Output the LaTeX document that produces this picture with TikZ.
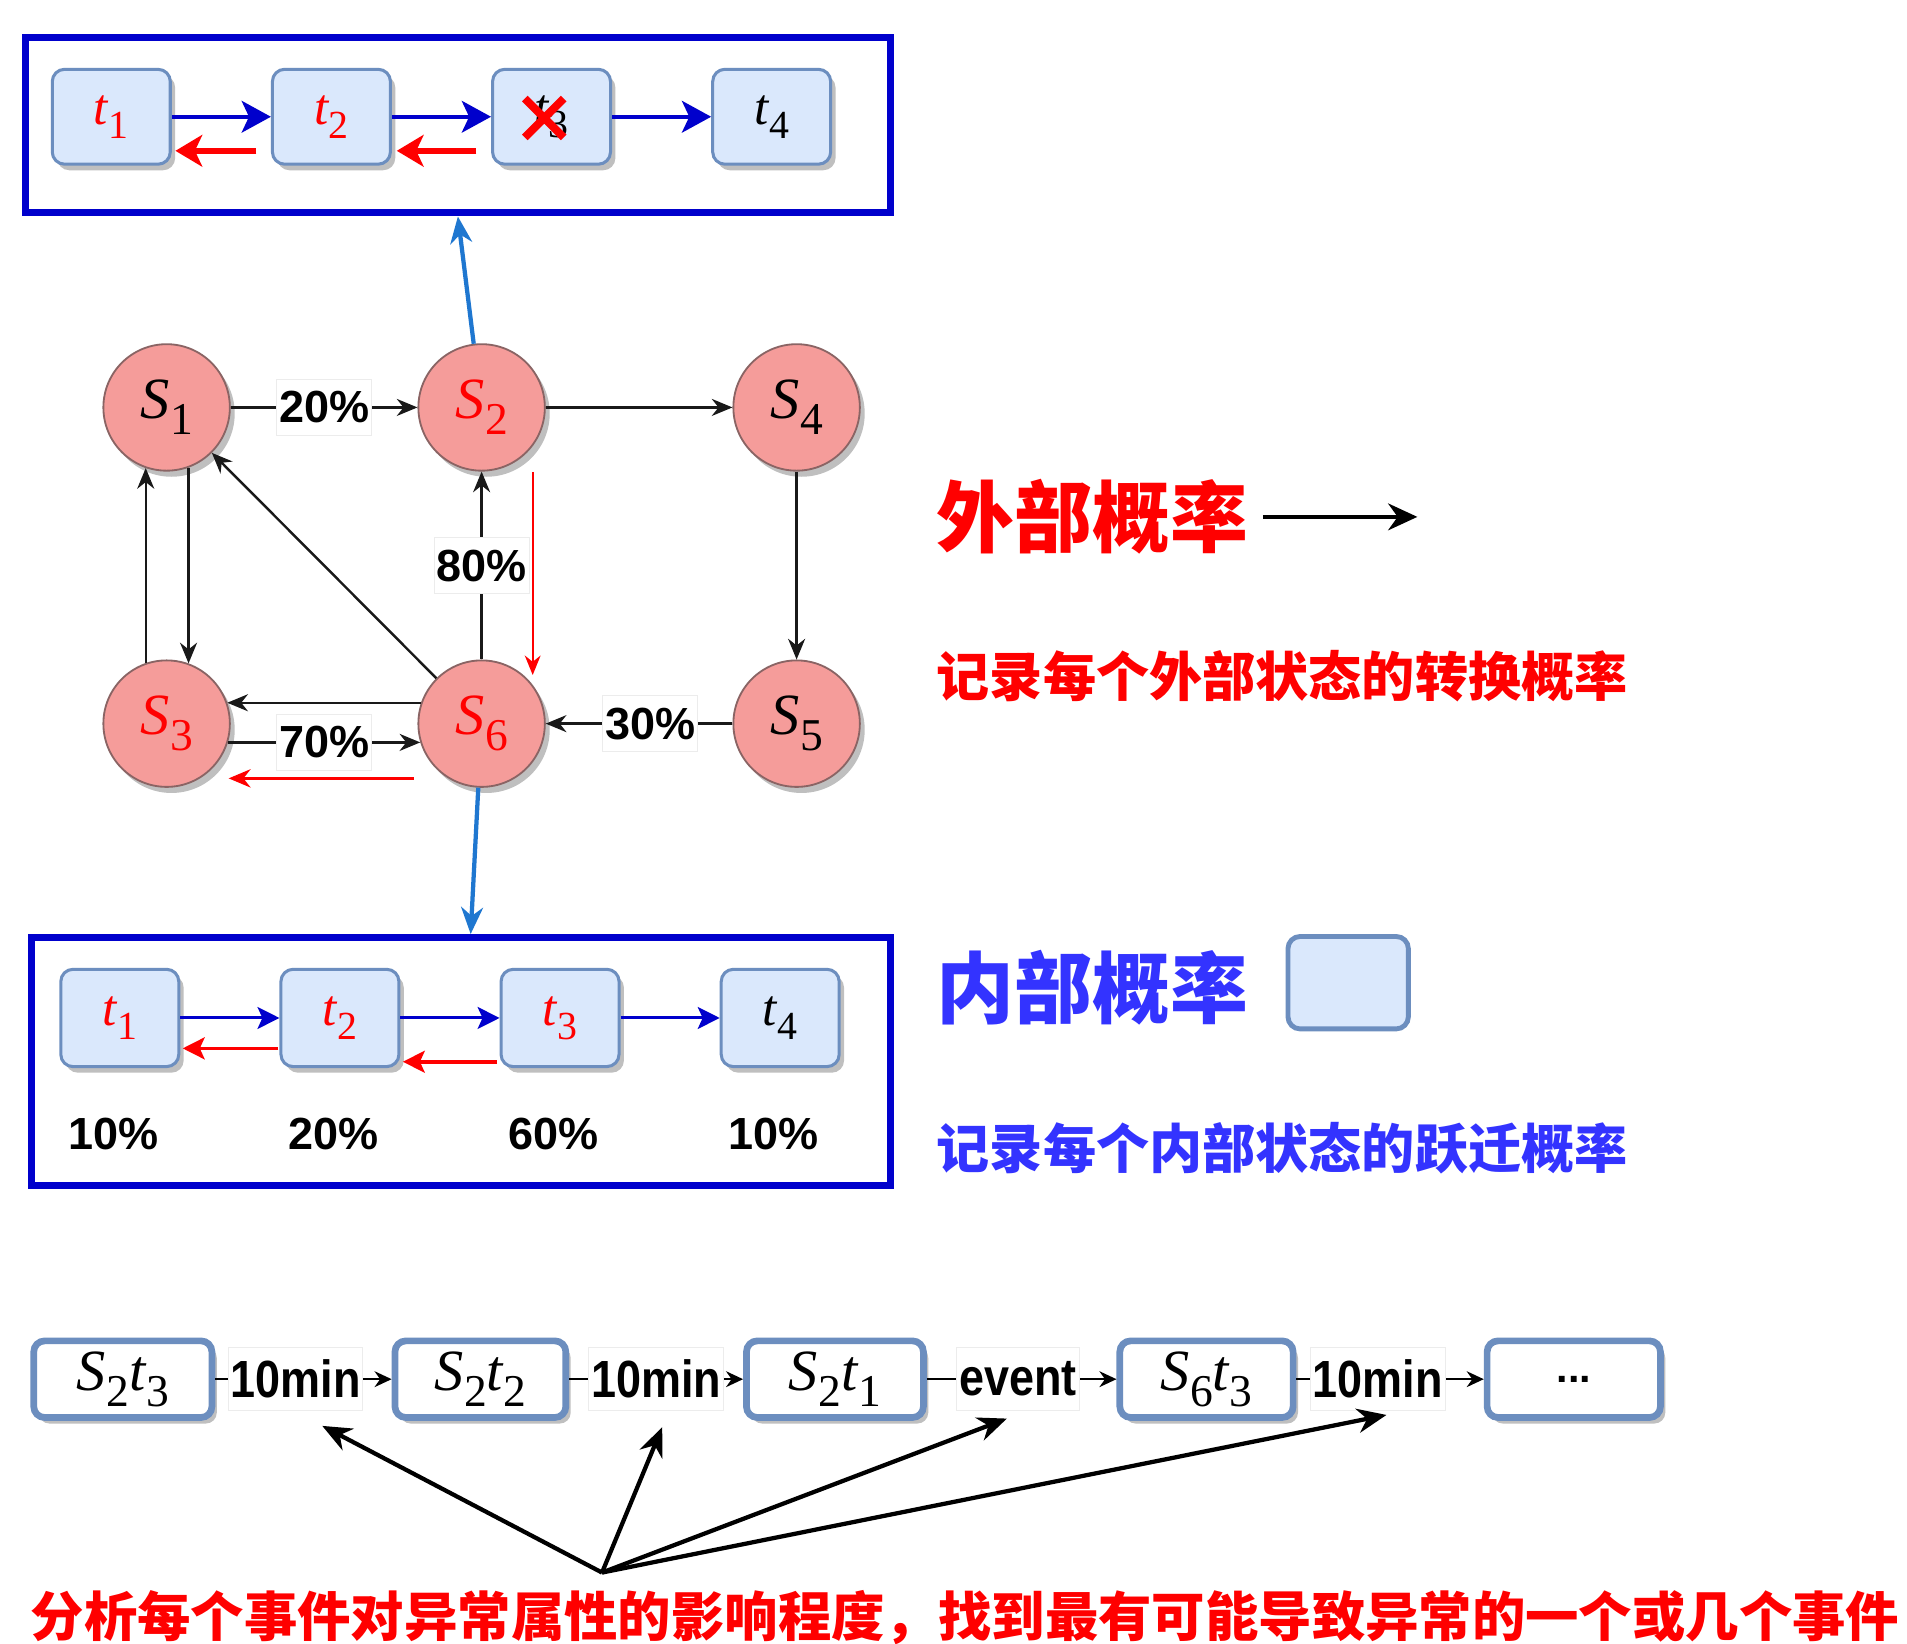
\documentclass[tikz,border=0pt]{standalone}
\usepackage{fontspec}
\newfontfamily\cjk{Noto Sans CJK SC}
\newfontfamily\lab{Liberation Sans}
\newfontfamily\labc{Liberation Sans}[FakeStretch=0.86]
\newfontfamily\tms{Liberation Serif}
\newcommand\myvar[2]{{\tms\itshape #1}\kern0.01em\raisebox{-0.27em}{\tms\scalebox{0.78}{#2}}}
\usetikzlibrary{arrows.meta,shadows,calc}
\definecolor{boxblue}{HTML}{0000CC}
\definecolor{linkblue}{HTML}{1F77D0}
\definecolor{tfill}{HTML}{DAE8FC}
\definecolor{tdraw}{HTML}{6C8EBF}
\definecolor{cfill}{HTML}{F59C9A}
\definecolor{cdraw}{HTML}{8A6464}
\definecolor{myred}{HTML}{FF0000}
\definecolor{txtblue}{HTML}{3333FF}
\begin{document}
\begin{tikzpicture}[x=1pt,y=-1pt,
  shad/.style={drop shadow={shadow xshift=4pt,shadow yshift=-5pt,fill=black,opacity=0.25}},
  outerbox/.style={draw=boxblue,line width=6pt,inner sep=0pt},
  tbox/.style={shad,draw=tdraw,fill=tfill,line width=2.5pt,rounded corners=10pt,
    minimum width=97pt,minimum height=78pt,inner sep=0pt,font=\fontsize{42}{46}\selectfont},
  state/.style={circle,shad,draw=cdraw,fill=cfill,line width=1.5pt,minimum size=104pt,
    inner sep=0pt,font=\fontsize{48}{54}\selectfont},
  elab/.style={fill=white,draw=gray!15,line width=0.8pt,inner xsep=2pt,inner ysep=0pt,
    minimum height=46pt,font=\lab\bfseries\fontsize{37}{40}\selectfont},
  clab/.style={fill=white,draw=gray!15,line width=0.8pt,inner xsep=2pt,inner ysep=0pt,
    minimum height=52pt,font=\labc\bfseries\fontsize{43}{46}\selectfont},
  pct/.style={font=\lab\bfseries\fontsize{37}{40}\selectfont,inner sep=0pt},
  garr/.style={-{Stealth[length=17pt,width=14pt]},line width=2pt,draw=black!90},
  bluearrA/.style={-{Stealth[length=24pt,width=26pt,inset=6pt]},line width=3.5pt,draw=boxblue},
  redarrA/.style={-{Stealth[length=22pt,width=26pt,inset=6pt]},line width=4.5pt,draw=myred},
  bluearrB/.style={-{Stealth[length=18pt,width=18pt,inset=4pt]},line width=2.5pt,draw=boxblue},
  redarrB/.style={-{Stealth[length=18pt,width=18pt,inset=4pt]},line width=3pt,draw=myred},
  redthin/.style={-{Stealth[length=16pt,width=13pt]},line width=1.6pt,draw=myred},
  redmid/.style={-{Stealth[length=18pt,width=15pt]},line width=2.5pt,draw=myred},
  linkarr/.style={-{Stealth[length=22pt,width=18pt]},line width=3.5pt,draw=linkblue},
  cbox/.style={shad,draw=tdraw,fill=white,line width=5.5pt,rounded corners=9pt,
    minimum height=63pt,inner sep=0pt,font=\fontsize{48}{54}\selectfont},
  charr/.style={-{Stealth[length=14pt,width=13pt]},line width=2pt,draw=black},
  fanarr/.style={-{Stealth[length=24pt,width=20pt]},line width=3.5pt,draw=black},
  legarr/.style={-{Stealth[length=24pt,width=22pt]},line width=3.5pt,draw=black},
  bigcjk/.style={font=\cjk\bfseries\fontsize{64}{70}\selectfont,inner sep=0pt,anchor=west},
  smcjk/.style={font=\cjk\bfseries\fontsize{43.7}{48}\selectfont,inner sep=0pt,anchor=west}
]
\path[use as bounding box,fill=white] (0,0) rectangle (1568,1351);

% ---------- top box ----------
\node[outerbox,minimum width=711pt,minimum height=144pt] (topbox) at (376.5,103) {};
\node[tbox] (a1) at (91.5,96) {\color{myred}\myvar{t}{1}};
\node[tbox] (a2) at (272.5,96) {\color{myred}\myvar{t}{2}};
\node[tbox] (a3) at (453.5,96) {\myvar{t}{3}};
\node[tbox] (a4) at (634.5,96) {\myvar{t}{4}};
\draw[bluearrA] (a1.east) -- (a2.west);
\draw[bluearrA] (a2.east) -- (a3.west);
\draw[bluearrA] (a3.east) -- (a4.west);
\draw[redarrA] ($(a2.west)+(-12,28)$) -- ($(a1.east)+(3,28)$);
\draw[redarrA] ($(a3.west)+(-12,28)$) -- ($(a2.east)+(4,28)$);
\draw[myred,line width=6.5pt] ($(a3.center)+(-22,-15)$) -- ($(a3.center)+(10,17)$);
\draw[myred,line width=6.5pt] ($(a3.center)+(10,-15)$) -- ($(a3.center)+(-22,17)$);

% ---------- state graph ----------
\node[state] (S1) at (137,335) {\myvar{S}{1}};
\node[state] (S2) at (396,335) {\color{myred}\myvar{S}{2}};
\node[state] (S4) at (655,335) {\myvar{S}{4}};
\node[state] (S3) at (137,595) {\color{myred}\myvar{S}{3}};
\node[state] (S6) at (396,595) {\color{myred}\myvar{S}{6}};
\node[state] (S5) at (655,595) {\myvar{S}{5}};

\draw[garr] (S1) -- node[elab]{20\%} (S2);
\draw[garr] (S2) -- (S4);
\draw[garr] (S4) -- (S5);
\draw[garr] (S5) -- node[elab,pos=.44]{30\%} (S6);
\draw[garr] (S6) -- node[elab]{80\%} (S2);
\draw[garr] (S6) -- (S1);
\draw[garr] (S3.109) -- (S1.251);
\draw[garr] (S1.290) -- (S3.70);
\draw[garr] (S6.161) -- (S3.19);
\draw[garr] (S3.-17) -- node[elab]{70\%} (S6.197);
\draw[redthin] ($(S2.center)+(42,53)$) -- ($(S6.center)+(42,-40)$);
\draw[redmid] ($(S6.center)+(-56,45)$) -- ($(S3.center)+(51,45)$);

% ---------- bottom box ----------
\node[outerbox,minimum width=706pt,minimum height=204pt] (botbox) at (379,873) {};
\node[tbox,minimum height=80pt] (b1) at (98.5,837) {\color{myred}\myvar{t}{1}};
\node[tbox,minimum height=80pt] (b2) at (279.5,837) {\color{myred}\myvar{t}{2}};
\node[tbox,minimum height=80pt] (b3) at (460.5,837) {\color{myred}\myvar{t}{3}};
\node[tbox,minimum height=80pt] (b4) at (641.5,837) {\myvar{t}{4}};
\draw[bluearrB] (b1.east) -- (b2.west);
\draw[bluearrB] (b2.east) -- (b3.west);
\draw[bluearrB] (b3.east) -- (b4.west);
\draw[redarrB] ($(b2.west)+(-1,25)$) -- ($(b1.east)+(2,25)$);
\draw[redarrB] ($(b3.west)+(-2,36)$) -- ($(b2.east)+(2,36)$);
\node[pct] (p1) at (93,932) {10\%};
\node[pct] (p2) at (274,932) {20\%};
\node[pct] (p3) at (455,932) {60\%};
\node[pct] (p4) at (636,932) {10\%};

% ---------- links from states to boxes ----------
\draw[linkarr] (S2) -- (topbox.south);
\draw[linkarr] (S6) -- ([xshift=8pt]botbox.north);

% ---------- legend ----------
\node[bigcjk,text=myred] (ext) at (770,425) {外部概率};
\coordinate (legtip) at ($(ext.east)+(139,0)$);
\draw[legarr] ([xshift=12pt]ext.east) -- (legtip);
\node[smcjk,text=myred] (extd) at (770,556) {记录每个外部状态的转换概率};
\node[bigcjk,text=txtblue] (int) at (770,812) {内部概率};
\node[draw=tdraw,fill=tfill,line width=4pt,rounded corners=10pt,minimum width=99pt,
  minimum height=76pt,inner sep=0pt] (legbox) at (1108.5,808) {};
\node[smcjk,text=txtblue] (intd) at (770,944) {记录每个内部状态的跃迁概率};

% ---------- event chain ----------
\node[cbox,minimum width=146.5pt] (B1) at (101,1134) {\myvar{S}{2}\myvar{t}{3}};
\node[cbox,minimum width=140.5pt] (B2) at (395,1134) {\myvar{S}{2}\myvar{t}{2}};
\node[cbox,minimum width=145.5pt] (B3) at (686.5,1134) {\myvar{S}{2}\myvar{t}{1}};
\node[cbox,minimum width=142.5pt] (B4) at (992,1134) {\myvar{S}{6}\myvar{t}{3}};
\node[cbox,minimum width=142.5pt,font=\lab\bfseries\fontsize{34}{36}\selectfont] (B5) at (1294,1134) {...};
\draw[charr] (B1) -- node[clab,pos=.455] (L1) {10min} (B2);
\draw[charr] (B2) -- node[clab,pos=.5] (L2) {10min} (B3);
\draw[charr] (B3) -- node[clab,pos=.48] (L3) {event} (B4);
\draw[charr] (B4) -- node[clab,pos=.435] (L4) {10min} (B5);

\coordinate (fan) at (495,1293);
\coordinate (f1) at ($(L1.south)+(22,12)$);
\coordinate (f2) at ($(L2.south)+(5,13)$);
\coordinate (f3) at ($(L3.south)+(-9,6)$);
\coordinate (f4) at ($(L4.south)+(7,3)$);
\draw[fanarr] (fan) -- (f1);
\draw[fanarr] (fan) -- (f2);
\draw[fanarr] (fan) -- (f3);
\draw[fanarr] (fan) -- (f4);

\node[font=\cjk\bfseries\fontsize{43.9}{48}\selectfont,text=myred,inner sep=0pt,anchor=west] (note)
  at (25,1330) {分析每个事件对异常属性的影响程度，找到最有可能导致异常的一个或几个事件};
\end{tikzpicture}
\end{document}
